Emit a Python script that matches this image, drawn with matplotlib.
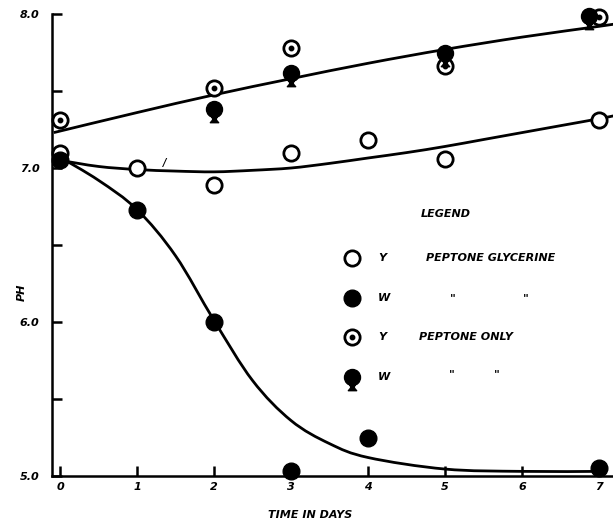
import numpy as np
import matplotlib
matplotlib.use("Agg")
import matplotlib.pyplot as plt
from matplotlib.path import Path
from matplotlib.patches import PathPatch

# ---------------- data ----------------
# Y, peptone glycerine (open circles)
y_pg_days = [0, 1, 2, 3, 4, 5, 7]
y_pg_ph = [7.10, 7.00, 6.89, 7.10, 7.18, 7.06, 7.31]
# W, peptone glycerine (filled circles)
w_pg_days = [0, 1, 2, 3, 4, 7]
w_pg_ph = [7.05, 6.73, 6.00, 5.03, 5.25, 5.05]
# Y, peptone only (dotted circles)
y_po_days = [0, 2, 3, 5, 7]
y_po_ph = [7.31, 7.52, 7.78, 7.66, 7.98]
# W, peptone only (filled "pin" markers)
w_po_days = [2, 3, 5, 6.87]
w_po_ph = [7.38, 7.62, 7.75, 7.99]

# hand-drawn fitted curves (nodes)
upper_days = [-0.08, 1, 2, 3, 4, 5, 6, 7, 7.2]
upper_ph = [7.23, 7.36, 7.475, 7.58, 7.68, 7.77, 7.85, 7.92, 7.935]
middle_days = [0, 0.5, 1, 1.5, 2, 2.5, 3, 3.5, 4, 4.5, 5, 5.5, 6, 6.5, 7, 7.2]
middle_ph = [7.05, 7.01, 6.99, 6.98, 6.975, 6.985, 7.00, 7.03, 7.065, 7.10,
             7.14, 7.185, 7.23, 7.275, 7.32, 7.34]
lower_days = [0, 0.5, 1, 1.5, 2, 2.5, 3, 3.5, 4, 5, 6, 7]
lower_ph = [7.07, 6.92, 6.73, 6.43, 6.01, 5.62, 5.36, 5.21, 5.12, 5.045, 5.03, 5.03]

x_ticks = [0, 1, 2, 3, 4, 5, 6, 7]
x_ticklabels = ["0", "1", "2", "3", "4", "5", "6", "7"]
y_major = [5.0, 6.0, 7.0, 8.0]
y_major_labels = ["5.0", "6.0", "7.0", "8.0"]
y_minor = [5.5, 6.5, 7.5]

legend_labels = ["PEPTONE GLYCERINE", "PEPTONE ONLY"]
legend_letters = ["Y", "W", "Y", "W"]

# ---------------- helpers ----------------
def smooth_path(xs, ys):
    """Catmull-Rom through the nodes, expressed as cubic Bezier path."""
    pts = np.column_stack([xs, ys]).astype(float)
    verts = [pts[0]]
    codes = [Path.MOVETO]
    n = len(pts)
    for i in range(n - 1):
        p0 = pts[i - 1] if i > 0 else pts[i]
        p1 = pts[i]
        p2 = pts[i + 1]
        p3 = pts[i + 2] if i + 2 < n else pts[i + 1]
        c1 = p1 + (p2 - p0) / 6.0
        c2 = p2 - (p3 - p1) / 6.0
        verts += [c1, c2, p2]
        codes += [Path.CURVE4] * 3
    return Path(verts, codes)

# pin marker: circle with a small flared stem below
circ = Path.unit_circle()
stem = Path([(-0.32, -0.8), (-0.22, -1.3), (-0.52, -1.65), (0.52, -1.65),
             (0.22, -1.3), (0.32, -0.8), (-0.32, -0.8)],
            [Path.MOVETO] + [Path.LINETO] * 5 + [Path.CLOSEPOLY])
pin = Path.make_compound_path(circ, stem)
PIN_MS = 19

FONT = dict(family="DejaVu Sans", weight="bold", style="italic")

# ---------------- figure ----------------
fig = plt.figure(figsize=(6.13, 5.25), dpi=100)
ax = fig.add_axes([52 / 613, 1 - 476 / 525, 1 - 52 / 613, (476 - 14) / 525])
ax.set_xlim(-0.104, 7.18)
ax.set_ylim(5.0, 8.0)

for sp in ["top", "right"]:
    ax.spines[sp].set_visible(False)
for sp in ["left", "bottom"]:
    ax.spines[sp].set_linewidth(1.8)

for xs, ys in [(upper_days, upper_ph), (middle_days, middle_ph), (lower_days, lower_ph)]:
    ax.add_patch(PathPatch(smooth_path(xs, ys), fill=False, lw=2.0,
                           edgecolor="black", zorder=2, clip_on=False))

ms = 11
ax.plot(y_pg_days, y_pg_ph, "o", ms=ms, mfc="white", mec="black", mew=2.0,
        ls="none", zorder=3, clip_on=False)
ax.plot(w_pg_days, w_pg_ph, "o", ms=ms + 1, color="black", ls="none",
        zorder=3, clip_on=False)
ax.plot(y_po_days, y_po_ph, "o", ms=ms, mfc="white", mec="black", mew=2.0,
        ls="none", zorder=3, clip_on=False)
ax.plot(y_po_days, y_po_ph, "o", ms=3.2, color="black", ls="none",
        zorder=4, clip_on=False)
ax.plot(w_po_days, w_po_ph, marker=pin, ms=PIN_MS, color="black", ls="none",
        zorder=3, clip_on=False)

ax.set_xticks(x_ticks)
ax.set_xticklabels(x_ticklabels, fontsize=8, **FONT)
ax.set_yticks(y_major)
ax.set_yticklabels(y_major_labels, fontsize=8, **FONT)
ax.set_yticks(y_minor, minor=True)
ax.tick_params(axis="both", which="both", direction="in", width=1.8, length=7)
ax.tick_params(axis="y", which="major", pad=9)
ax.tick_params(axis="x", which="major", pad=4)

# axis labels
fig.text(22 / 613, 1 - 292 / 525, "PH", rotation=90, ha="center", va="center",
         fontsize=8, **FONT)
fig.text(310 / 613, 1 - 515 / 525, "TIME IN DAYS", ha="center", va="center",
         fontsize=8, **FONT)

# stray pencil tick near day 1
fig.text(165 / 613, 1 - 163 / 525, "/", ha="center", va="center", fontsize=7, **FONT)

# ---------------- hand-lettered legend ----------------
def fx(px):
    return px / 613

def fy(py):
    return 1 - py / 525

fig.text(fx(421), fy(214), "LEGEND", ha="left", va="center", fontsize=8, **FONT)
rows = [258, 298, 337, 377]
mx = 352
fig.lines.append(plt.Line2D([fx(mx)], [fy(rows[0])], marker="o", ms=ms, mfc="white",
                            mec="black", mew=2.0, transform=fig.transFigure))
fig.lines.append(plt.Line2D([fx(mx)], [fy(rows[1])], marker="o", ms=ms + 1,
                            color="black", transform=fig.transFigure))
fig.lines.append(plt.Line2D([fx(mx)], [fy(rows[2])], marker="o", ms=ms, mfc="white",
                            mec="black", mew=2.0, transform=fig.transFigure))
fig.lines.append(plt.Line2D([fx(mx)], [fy(rows[2])], marker="o", ms=3.2,
                            color="black", transform=fig.transFigure))
fig.lines.append(plt.Line2D([fx(mx)], [fy(rows[3])], marker=pin, ms=PIN_MS,
                            color="black", transform=fig.transFigure))
for r, letter in zip(rows, legend_letters):
    fig.text(fx(378), fy(r), letter, ha="left", va="center", fontsize=8, **FONT)
fig.text(fx(426), fy(rows[0]), legend_labels[0], ha="left", va="center", fontsize=8, **FONT)
fig.text(fx(419), fy(rows[2]), legend_labels[1], ha="left", va="center", fontsize=8, **FONT)
for qx in (453, 526):
    fig.text(fx(qx), fy(rows[1]), '"', ha="center", va="center", fontsize=8, **FONT)
for qx in (452, 497):
    fig.text(fx(qx), fy(rows[3] - 3), '"', ha="center", va="center", fontsize=8, **FONT)

fig.savefig("out.png", dpi=100)
